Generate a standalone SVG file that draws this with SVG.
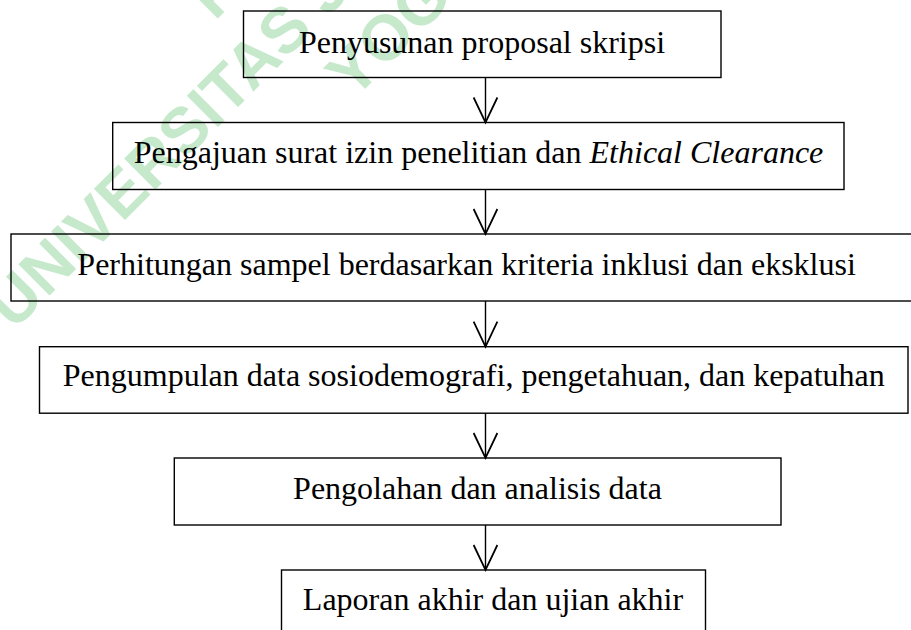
<svg xmlns="http://www.w3.org/2000/svg" width="911" height="630" viewBox="0 0 911 630">
<style>
.box{fill:none;stroke:#000;stroke-width:1.4}
.lbl{font-family:"Liberation Serif","Times New Roman",serif;font-size:32px;fill:#000;text-anchor:middle}
.conn{stroke:#000;stroke-width:1.4;fill:none}
.wm{font-family:"Liberation Sans",Arial,sans-serif;font-size:64px;font-weight:bold;fill:#c6e9cc;text-anchor:middle}
</style>
<defs>
<marker id="ah" markerUnits="userSpaceOnUse" orient="auto" refX="0" refY="0" markerWidth="30" markerHeight="30" viewBox="-22 -12 24 24" overflow="visible">
<path d="M-20,-9.5 L0,0 L-20,9.5" fill="none" stroke="#000" stroke-width="1.4"/>
</marker>
</defs>
<rect width="911" height="630" fill="#fff"/>
<g id="watermark" transform="translate(456,-111) rotate(-45)">
<text class="wm" x="0" y="-77">PERPUSTAKAAN</text>
<text class="wm" x="0" y="0">UNIVERSITAS JENDERAL ACHMAD YANI</text>
<text class="wm" x="0" y="77">YOGYAKARTA</text>
</g>
<g id="connectors">
<path class="conn" d="M485.5,77.5 V122.5" marker-end="url(#ah)"/>
<path class="conn" d="M485.5,189.5 V234" marker-end="url(#ah)"/>
<path class="conn" d="M485.5,301 V346.7" marker-end="url(#ah)"/>
<path class="conn" d="M485.5,413.2 V458" marker-end="url(#ah)"/>
<path class="conn" d="M485.5,525 V570" marker-end="url(#ah)"/>
</g>
<g id="n1">
<rect class="box" x="243.5" y="11" width="477.5" height="66.5"/>
<text class="lbl" x="482" y="52.7">Penyusunan proposal skripsi</text>
</g>
<g id="n2">
<rect class="box" x="112.7" y="122.5" width="731.3" height="67"/>
<text class="lbl" x="478.5" y="163">Pengajuan surat izin penelitian dan <tspan font-style="italic">Ethical Clearance</tspan></text>
</g>
<g id="n3">
<rect class="box" x="11" y="234" width="911" height="67"/>
<text class="lbl" x="466.6" y="274.5">Perhitungan sampel berdasarkan kriteria inklusi dan eksklusi</text>
</g>
<g id="n4">
<rect class="box" x="39.5" y="346.7" width="868.5" height="66.5"/>
<text class="lbl" x="473.8" y="386">Pengumpulan data sosiodemografi, pengetahuan, dan kepatuhan</text>
</g>
<g id="n5">
<rect class="box" x="174.3" y="458" width="606.7" height="67"/>
<text class="lbl" x="477.5" y="498.5">Pengolahan dan analisis data</text>
</g>
<g id="n6">
<rect class="box" x="281.5" y="570" width="424" height="67"/>
<text class="lbl" x="493" y="610">Laporan akhir dan ujian akhir</text>
</g>
</svg>
